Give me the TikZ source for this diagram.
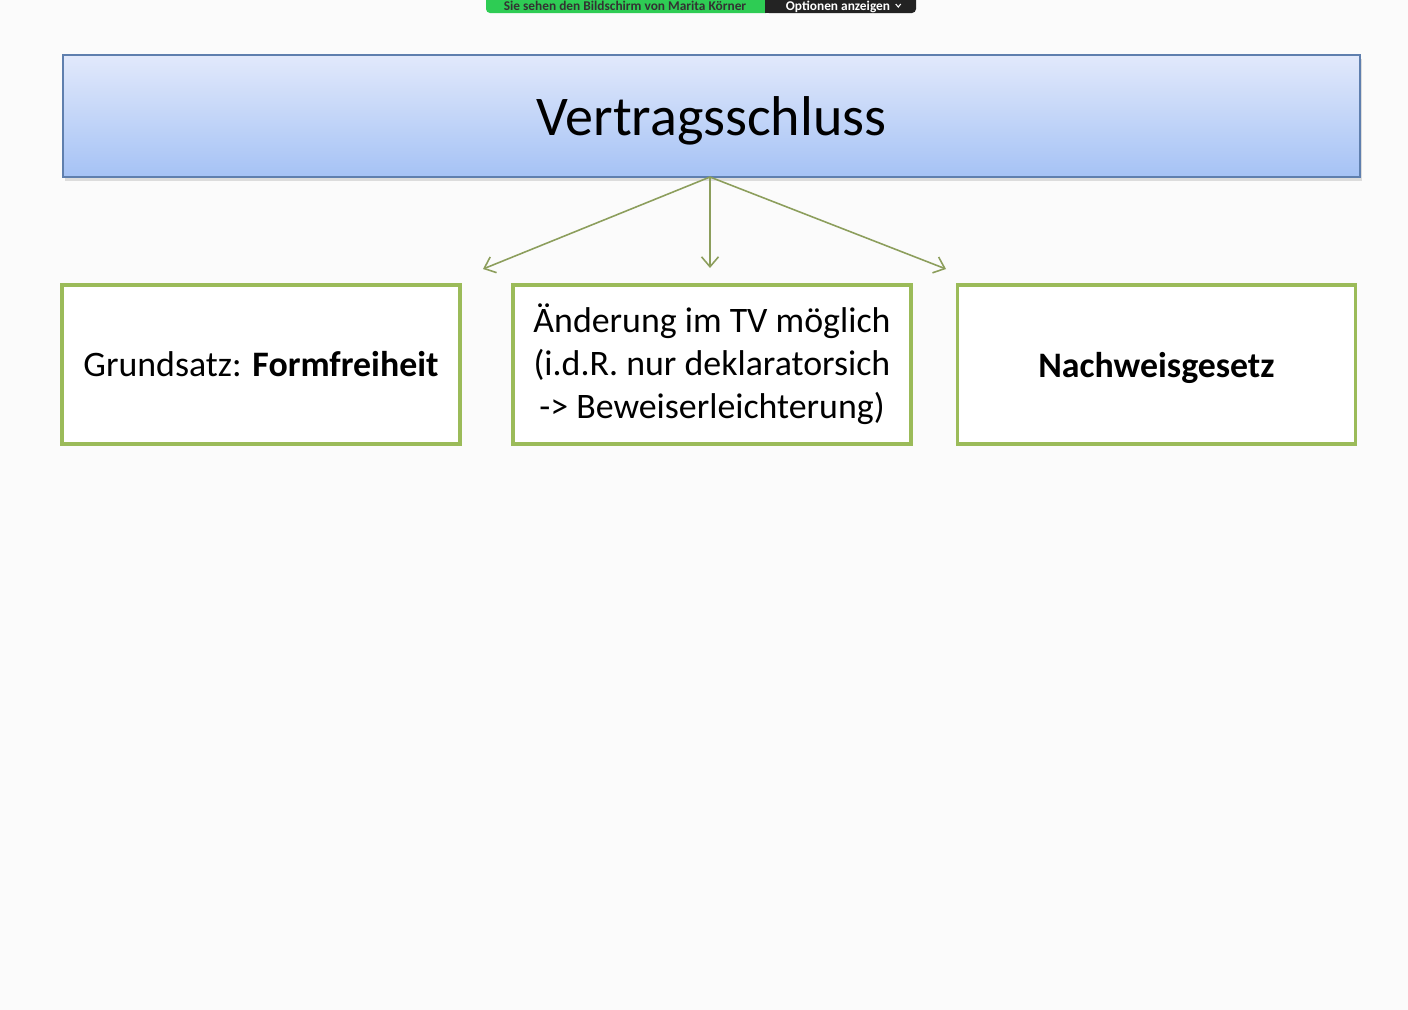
\documentclass[tikz,border=0pt]{standalone}
\usepackage{fontspec}
\setmainfont{Carlito}
\usetikzlibrary{calc}
\usetikzlibrary{arrows.meta}
\usetikzlibrary{shadows}

\definecolor{pagebg}{HTML}{FBFBFB}
\definecolor{titletop}{HTML}{E2E9FB}
\definecolor{titlebot}{HTML}{A5C2F5}
\definecolor{titleline}{HTML}{5F7FAE}
\definecolor{boxgreen}{HTML}{9BBB59}
\definecolor{arrowgreen}{HTML}{8C9E5C}
\definecolor{zoomgreen}{HTML}{2ECC54}
\definecolor{zoomdark}{HTML}{232323}

\begin{document}
\begin{tikzpicture}[
    titlebox/.style={draw=titleline, line width=0.6pt, top color=titletop, bottom color=titlebot,
        minimum width=12.97cm, minimum height=1.22cm, inner sep=0pt, text depth=0pt,
        drop shadow={opacity=0.25, shadow xshift=0.02cm, shadow yshift=-0.04cm},
        font=\fontsize{15.95}{19}\selectfont},
    greenbox/.style={draw=boxgreen, line width=0.9pt, fill=white, minimum width=3.98cm,
        minimum height=1.59cm, inner sep=0pt, align=center,
        font=\fontsize{10.2}{12.2}\selectfont},
    zoomlabel/.style={font=\fontsize{3.8}{4.5}\selectfont\bfseries, anchor=base, inner sep=0pt},
    branch/.style={draw=arrowgreen, line width=0.45pt, -{Straight Barb[length=1mm, width=1.7mm]}}
]

    \useasboundingbox (0, 0) rectangle (14.08, -10.10);
    \fill[pagebg] (0, 0) rectangle (14.08, -10.10);

    % zoom bar at the top edge
    \begin{scope}
    \clip (0, 0) rectangle (14.08, -0.2);
    \fill[zoomgreen, rounded corners=0.04cm] (4.86, 0.2) rectangle (7.70, -0.13);
    \fill[zoomdark, rounded corners=0.04cm] (7.65, 0.2) rectangle (9.16, -0.13);
    \fill[zoomdark] (7.65, 0.2) rectangle (7.75, -0.13);
    \node (zoomtext) [zoomlabel, text=black!80] at (6.25, -0.10) {Sie sehen den Bildschirm von Marita Körner};
    \node (zoomopt) [zoomlabel, text=white] at (8.38, -0.10) {Optionen anzeigen};
    \draw[white, line width=0.3pt] ($(zoomopt.base east)+(0.05, 0.06)$) -- ++(0.025, -0.03) -- ++(0.025, 0.03);
    \end{scope}

    % title
    \node (title) [titlebox] at (7.115, -1.16) {Vertragsschluss};

    % three boxes
    \node (formfrei) [greenbox] at (2.61, -3.645) {Grundsatz: \textbf{Formfreiheit}};
    \node (aenderung) [greenbox] at (7.12, -3.645) {Änderung im TV möglich\\(i.d.R. nur deklaratorsich\\-> Beweiserleichterung)};
    \node (nachweis) [greenbox, text depth=0pt] at (11.565, -3.645) {\textbf{Nachweisgesetz}};

    % arrows
    \coordinate (root) at (7.10, -1.77);
    \coordinate (endleft) at (4.83, -2.69);
    \coordinate (endmid) at (7.10, -2.68);
    \coordinate (endright) at (9.46, -2.69);
    \draw[branch] (root) -- (endleft);
    \draw[branch] (root) -- (endmid);
    \draw[branch] (root) -- (endright);

\end{tikzpicture}
\end{document}
